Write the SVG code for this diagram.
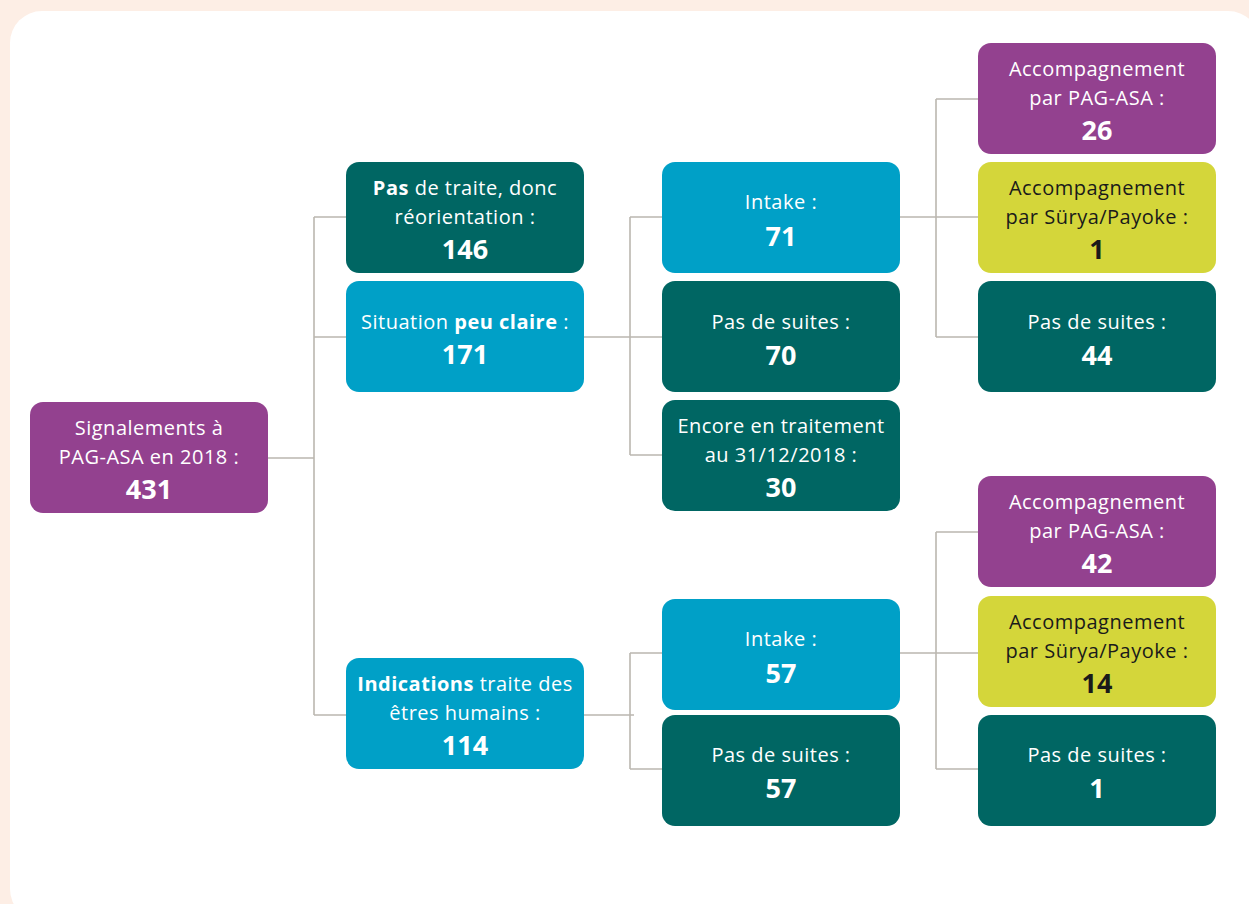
<svg xmlns="http://www.w3.org/2000/svg" width="1249" height="904" viewBox="0 0 1249 904">
<style>
.t{font-family:"Open Sans","Noto Sans","Liberation Sans",sans-serif;font-size:20px;letter-spacing:0.5px;fill:#ffffff;text-anchor:middle}
.n{font-family:"Open Sans","Noto Sans","Liberation Sans",sans-serif;font-size:27px;font-weight:bold;fill:#ffffff;text-anchor:middle}
.b{font-weight:bold}
.dk{fill:#1a1a1a}
.purple{fill:#93418f}
.teal{fill:#006663}
.blue{fill:#00a0c7}
.yellow{fill:#d4d63a}
.conn{stroke:#bbb7b0;stroke-width:1.6;fill:none}
</style>
<rect x="0" y="0" width="1249" height="904" fill="#fdeee5"/>
<rect x="10" y="11" width="1250" height="910" rx="32" fill="#ffffff"/>

<g id="connectors" class="conn">
<path d="M268 458H314M314 217V715M314 217H346M314 337H346M314 715H346"/>
<path d="M584 337H662M630 217V455M630 217H662M630 455H662"/>
<path d="M584 715H634M630 653V769M630 653H662M630 769H662"/>
<path d="M900 217H978M936 99V337M936 99H978M936 337H978"/>
<path d="M900 653H978M936 532V769M936 532H978M936 769H978"/>
</g>

<g id="root">
<rect class="purple" x="30" y="402" width="238" height="111" rx="13"/>
<text class="t" x="149" y="435">Signalements à</text>
<text class="t" x="149" y="464">PAG-ASA en 2018 :</text>
<text class="n" x="149" y="499">431</text>
</g>

<g id="pas-de-traite">
<rect class="teal" x="346" y="162" width="238" height="111" rx="13"/>
<text class="t" x="465" y="195"><tspan class="b">Pas</tspan> de traite, donc</text>
<text class="t" x="465" y="224">réorientation :</text>
<text class="n" x="465" y="259">146</text>
</g>

<g id="situation">
<rect class="blue" x="346" y="281" width="238" height="111" rx="13"/>
<text class="t" x="465" y="329">Situation <tspan class="b">peu claire</tspan> :</text>
<text class="n" x="465" y="364">171</text>
</g>

<g id="indications">
<rect class="blue" x="346" y="658" width="238" height="111" rx="13"/>
<text class="t" x="465" y="691"><tspan class="b">Indications</tspan> traite des</text>
<text class="t" x="465" y="720">êtres humains :</text>
<text class="n" x="465" y="755">114</text>
</g>

<g id="intake1">
<rect class="blue" x="662" y="162" width="238" height="111" rx="13"/>
<text class="t" x="781" y="209">Intake :</text>
<text class="n" x="781" y="246">71</text>
</g>

<g id="pas-de-suites1">
<rect class="teal" x="662" y="281" width="238" height="111" rx="13"/>
<text class="t" x="781" y="329">Pas de suites :</text>
<text class="n" x="781" y="365">70</text>
</g>

<g id="encore">
<rect class="teal" x="662" y="400" width="238" height="111" rx="13"/>
<text class="t" x="781" y="433">Encore en traitement</text>
<text class="t" x="781" y="462">au 31/12/2018 :</text>
<text class="n" x="781" y="497">30</text>
</g>

<g id="intake2">
<rect class="blue" x="662" y="599" width="238" height="111" rx="13"/>
<text class="t" x="781" y="646">Intake :</text>
<text class="n" x="781" y="683">57</text>
</g>

<g id="pas-de-suites2">
<rect class="teal" x="662" y="715" width="238" height="111" rx="13"/>
<text class="t" x="781" y="762">Pas de suites :</text>
<text class="n" x="781" y="798">57</text>
</g>

<g id="acc-pag1">
<rect class="purple" x="978" y="43" width="238" height="111" rx="13"/>
<text class="t" x="1097" y="76">Accompagnement</text>
<text class="t" x="1097" y="105">par PAG-ASA :</text>
<text class="n" x="1097" y="140">26</text>
</g>

<g id="acc-surya1">
<rect class="yellow" x="978" y="162" width="238" height="111" rx="13"/>
<text class="t dk" x="1097" y="195">Accompagnement</text>
<text class="t dk" x="1097" y="224">par Sürya/Payoke :</text>
<text class="n dk" x="1097" y="259">1</text>
</g>

<g id="pas-de-suites3">
<rect class="teal" x="978" y="281" width="238" height="111" rx="13"/>
<text class="t" x="1097" y="329">Pas de suites :</text>
<text class="n" x="1097" y="365">44</text>
</g>

<g id="acc-pag2">
<rect class="purple" x="978" y="476" width="238" height="111" rx="13"/>
<text class="t" x="1097" y="509">Accompagnement</text>
<text class="t" x="1097" y="538">par PAG-ASA :</text>
<text class="n" x="1097" y="573">42</text>
</g>

<g id="acc-surya2">
<rect class="yellow" x="978" y="596" width="238" height="111" rx="13"/>
<text class="t dk" x="1097" y="629">Accompagnement</text>
<text class="t dk" x="1097" y="658">par Sürya/Payoke :</text>
<text class="n dk" x="1097" y="693">14</text>
</g>

<g id="pas-de-suites4">
<rect class="teal" x="978" y="715" width="238" height="111" rx="13"/>
<text class="t" x="1097" y="762">Pas de suites :</text>
<text class="n" x="1097" y="798">1</text>
</g>
</svg>
